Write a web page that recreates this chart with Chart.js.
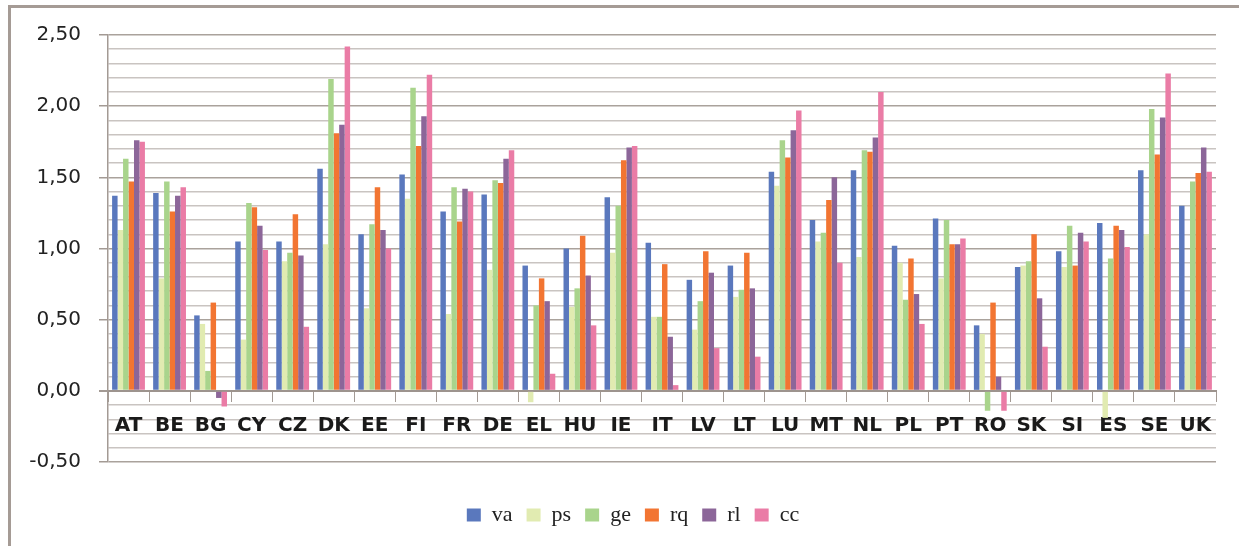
<!DOCTYPE html>
<html>
<head>
<meta charset="utf-8">
<script src="https://cdn.jsdelivr.net/npm/chart.js@4"></script>
<style>
  body { margin: 0; background: #fff; }
  #wrap { position: relative; width: 1239px; height: 546px; overflow: hidden; }
  #frame { position: absolute; left: 8px; top: 5px; width: 1300px; height: 600px;
           border-left: 3px solid #a59b95; border-top: 3px solid #a59b95; }
  #chart { position: absolute; left: 0; top: 0; }
</style>
</head>
<body>
<div id="wrap">
  <div id="frame"></div>
  <canvas id="chart" width="1239" height="546"></canvas>
</div>
<script>
// governance indicators per country
const countries = ['AT','BE','BG','CY','CZ','DK','EE','FI','FR','DE','EL','HU','IE','IT','LV','LT','LU','MT','NL','PL','PT','RO','SK','SI','ES','SE','UK'];

const va = [1.37,1.39,0.53,1.05,1.05,1.56,1.10,1.52,1.26,1.38,0.88,1.00,1.36,1.04,0.78,0.88,1.54,1.20,1.55,1.02,1.21,0.46,0.87,0.98,1.18,1.55,1.30];
const ps = [1.13,0.79,0.47,0.36,0.91,1.03,0.58,1.35,0.54,0.85,-0.08,0.59,0.97,0.52,0.43,0.66,1.44,1.05,0.94,0.90,0.79,0.40,0.88,0.87,-0.19,1.10,0.30];
const ge = [1.63,1.47,0.14,1.32,0.97,2.19,1.17,2.13,1.43,1.48,0.60,0.72,1.30,0.52,0.63,0.71,1.76,1.11,1.69,0.64,1.20,-0.14,0.91,1.16,0.93,1.98,1.47];
const rq = [1.47,1.26,0.62,1.29,1.24,1.81,1.43,1.72,1.19,1.46,0.79,1.09,1.62,0.89,0.98,0.97,1.64,1.34,1.68,0.93,1.03,0.62,1.10,0.88,1.16,1.66,1.53];
const rl = [1.76,1.37,-0.05,1.16,0.95,1.87,1.13,1.93,1.42,1.63,0.63,0.81,1.71,0.38,0.83,0.72,1.83,1.50,1.78,0.68,1.03,0.10,0.65,1.11,1.13,1.92,1.71];
const cc = [1.75,1.43,-0.11,0.99,0.45,2.42,1.00,2.22,1.40,1.69,0.12,0.46,1.72,0.04,0.30,0.24,1.97,0.90,2.10,0.47,1.07,-0.14,0.31,1.05,1.01,2.23,1.54];

const seriesNames = ['va','ps','ge','rq','rl','cc'];
const seriesColors = ['#5a78bd','#e1ebb1','#a9d48c','#f27532','#8c6699','#ea7ca6'];
const yTicks = { min: -0.5, max: 2.5, step: 0.1 };

const isMajor = v => Math.abs(v * 2 - Math.round(v * 2)) < 1e-6;

const ctx = document.getElementById('chart').getContext('2d');
new Chart(ctx, {
    type: 'bar',
    data: {
        labels: countries,
        datasets: [va, ps, ge, rq, rl, cc].map((d, i) => ({
            label: seriesNames[i],
            data: d,
            backgroundColor: seriesColors[i],
            borderWidth: 0,
            barPercentage: 1.0,
            categoryPercentage: 0.8
        }))
    },
    options: {
        responsive: false,
        devicePixelRatio: 1,
        animation: false,
        layout: { padding: { left: 50, right: 23, top: 35, bottom: 10 } },
        plugins: {
            tooltip: { enabled: false },
            legend: {
                position: 'bottom',
                title: { display: true, text: ' ', font: { size: 10 }, padding: { top: 16, bottom: 0 } },
                labels: {
                    boxWidth: 14,
                    boxHeight: 13,
                    padding: 14,
                    color: '#222',
                    font: { family: '"Liberation Serif", serif', size: 22 }
                }
            }
        },
        scales: {
            x: {
                position: { y: 0 },
                grid: {
                    drawOnChartArea: false,
                    drawTicks: true,
                    tickLength: 10,
                    tickColor: '#a39a94',
                    offset: true
                },
                border: { display: true, color: '#9d948e', width: 2 },
                ticks: {
                    autoSkip: false,
                    maxRotation: 0,
                    padding: 13,
                    color: '#1a1a1a',
                    font: { family: '"DejaVu Sans"', size: 20, weight: 'bold' }
                }
            },
            y: {
                min: yTicks.min,
                max: yTicks.max,
                afterFit: scale => {
                    scale.width = 58;
                    // labels reach past the narrow axis box, so do not clip them
                    scale._computeLabelArea = () => undefined;
                },
                grid: {
                    color: c => {
                        const v = c.tick ? c.tick.value : 0;
                        if (Math.abs(v) < 1e-6) return '#9d948e';
                        return isMajor(v) ? '#aaa29c' : '#c9c4c1';
                    },
                    lineWidth: c => (c.tick && Math.abs(c.tick.value) < 1e-6) ? 2 : 1.5,
                    tickLength: 9,
                    tickColor: c => (c.tick && isMajor(c.tick.value)) ? '#a39a94' : 'rgba(0,0,0,0)'
                },
                border: { display: true, color: '#a39a94', width: 1.5 },
                ticks: {
                    stepSize: yTicks.step,
                    autoSkip: false,
                    padding: 18,
                    color: '#222',
                    font: { family: '"DejaVu Sans"', size: 20 },
                    callback: v => isMajor(v) ? v.toFixed(2).replace('.', ',') : ''
                }
            }
        }
    }
});
</script>
</body>
</html>
